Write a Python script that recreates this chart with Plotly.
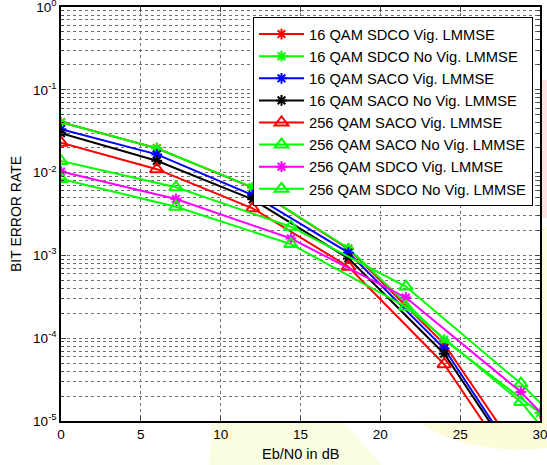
import plotly.graph_objects as go

# Eb/N0 sample points (dB)
ebn0_step6 = [0, 6, 12, 18, 24, 30]
ebn0_step72 = [0, 7.2, 14.4, 21.6, 28.8, 36]

# Bit error rates for each receiver configuration
ber_16qam_sdco_vig = [0.0405, 0.0197, 0.0066, 0.0012, 8.5e-5, 1.7e-6]
ber_16qam_sdco_novig = [0.0405, 0.0197, 0.00664, 0.00122, 9.6e-5, 1.25e-5]
ber_16qam_saco_vig = [0.0334, 0.0166, 0.00536, 0.00108, 7.5e-5, 1.3e-6]
ber_16qam_saco_novig = [0.0299, 0.0139, 0.00475, 0.00092, 6.5e-5, 1.2e-6]
ber_256qam_saco_vig = [0.023, 0.011, 0.0037, 0.00073, 4.85e-5, 9.4e-7]
ber_256qam_saco_novig = [0.0138, 0.00664, 0.00222, 0.00042, 2.83e-5, 1.2e-6]
ber_256qam_sdco_vig = [0.0103, 0.0048, 0.0016, 0.00031, 2.24e-5, 8e-7]
ber_256qam_sdco_novig = [0.00838, 0.00387, 0.00137, 0.00024, 1.7e-5, 3.7e-7]

series_names = [
    "16 QAM SDCO Vig. LMMSE",
    "16 QAM SDCO No Vig. LMMSE",
    "16 QAM SACO Vig. LMMSE",
    "16 QAM SACO No Vig. LMMSE",
    "256 QAM SACO Vig. LMMSE",
    "256 QAM SACO No Vig. LMMSE",
    "256 QAM SDCO Vig. LMMSE",
    "256 QAM SDCO No Vig. LMMSE",
]

x_ticks = [0, 5, 10, 15, 20, 25, 30]
y_ticks = [1e-5, 1e-4, 1e-3, 1e-2, 1e-1, 1]
y_ticktext = ["10<sup>-5</sup>", "10<sup>-4</sup>", "10<sup>-3</sup>",
              "10<sup>-2</sup>", "10<sup>-1</sup>", "10<sup>0</sup>"]
x_title = "Eb/N0 in dB"
y_title = "BIT ERROR RATE"

series = [
    (ebn0_step6, ber_16qam_sdco_vig, "#ff0000", "asterisk-open"),
    (ebn0_step6, ber_16qam_sdco_novig, "#00ff00", "asterisk-open"),
    (ebn0_step6, ber_16qam_saco_vig, "#0000ff", "asterisk-open"),
    (ebn0_step6, ber_16qam_saco_novig, "#000000", "asterisk-open"),
    (ebn0_step6, ber_256qam_saco_vig, "#ff0000", "triangle-up-open"),
    (ebn0_step72, ber_256qam_saco_novig, "#00ff00", "triangle-up-open"),
    (ebn0_step72, ber_256qam_sdco_vig, "#ff00ff", "asterisk-open"),
    (ebn0_step72, ber_256qam_sdco_novig, "#00ff00", "triangle-up-open"),
]

fig = go.Figure()
for i, (name, (xs, ys, color, symbol)) in enumerate(zip(series_names, series)):
    tri = symbol.startswith("triangle")
    fig.add_trace(go.Scatter(
        x=xs, y=ys, name=name, mode="lines+markers",
        line=dict(color=color, width=2),
        marker=dict(symbol=symbol, size=12 if tri else 9, color=color,
                    line=dict(color=color, width=2)),
    ))

minor_vals = [m * 10 ** e for e in range(-5, 0) for m in range(2, 10)]

# Pixel-to-paper helpers for the fixed plot box
W, H, L, R, T, B = 547, 465, 61, 7, 7, 44
pw, ph = W - L - R, H - T - B


def px(x):
    return (x - L) / pw


def py(y):
    return (H - B - y) / ph


# Light background tints around the lower and right margins
shapes = [
    dict(type="path", xref="paper", yref="paper", layer="below",
         path=(f"M {px(212)} {py(422)} L {px(343)} {py(422)} "
               f"L {px(382)} {py(465)} L {px(209)} {py(465)} Z"),
         fillcolor="#fafde0", line=dict(width=0)),
    dict(type="path", xref="paper", yref="paper", layer="below",
         path=(f"M {px(418)} {py(422)} L {px(547)} {py(422)} "
               f"L {px(547)} {py(448)} Q {px(470)} {py(456)} {px(418)} {py(422)} Z"),
         fillcolor="#fdfcd8", line=dict(width=0)),
    dict(type="rect", xref="paper", yref="paper", layer="below",
         x0=px(541), x1=px(547), y0=py(218), y1=py(80),
         fillcolor="#fde2e2", line=dict(width=0)),
    dict(type="rect", xref="paper", yref="paper", layer="below",
         x0=px(541), x1=px(547), y0=py(434), y1=py(226),
         fillcolor="#fdfcdc", line=dict(width=0)),
]

annotations = [
    dict(text=x_title, xref="paper", yref="paper", x=px(300), y=py(454),
         xanchor="center", yanchor="middle", showarrow=False,
         font=dict(size=14.5)),
    dict(text=y_title, xref="paper", yref="paper", x=px(16), y=py(214),
         xanchor="center", yanchor="middle", showarrow=False, textangle=-90,
         font=dict(size=14)),
]

fig.update_layout(
    width=W, height=H,
    margin=dict(l=L, r=R, t=T, b=B),
    paper_bgcolor="white", plot_bgcolor="white",
    font=dict(family="Liberation Sans, Arial, sans-serif", size=14, color="black"),
    shapes=shapes,
    annotations=annotations,
    legend=dict(
        x=px(253), y=py(17), xanchor="left", yanchor="top",
        bgcolor="white", bordercolor="black", borderwidth=1,
        font=dict(size=14.7), itemwidth=45,
    ),
    xaxis=dict(
        range=[0, 30], tickvals=x_ticks, ticks="inside", ticklen=5,
        showline=True, linecolor="black", linewidth=1.5, mirror="allticks",
        showgrid=True, gridcolor="#707070", griddash="dot", gridwidth=1,
        zeroline=False, tickfont=dict(size=13.5), automargin=False,
        ticklabeloverflow="allow",
    ),
    yaxis=dict(
        type="log", range=[-5, 0], tickvals=y_ticks, ticktext=y_ticktext,
        ticks="inside", ticklen=5,
        showline=True, linecolor="black", linewidth=1.5, mirror="allticks",
        showgrid=True, gridcolor="#707070", griddash="dot", gridwidth=1,
        zeroline=False, tickfont=dict(size=13.5), automargin=False,
        ticklabeloverflow="allow",
        minor=dict(tickvals=minor_vals, ticks="inside", ticklen=3,
                   showgrid=True, gridcolor="#707070", griddash="dot", gridwidth=1),
    ),
)

fig.write_html("out.html")
